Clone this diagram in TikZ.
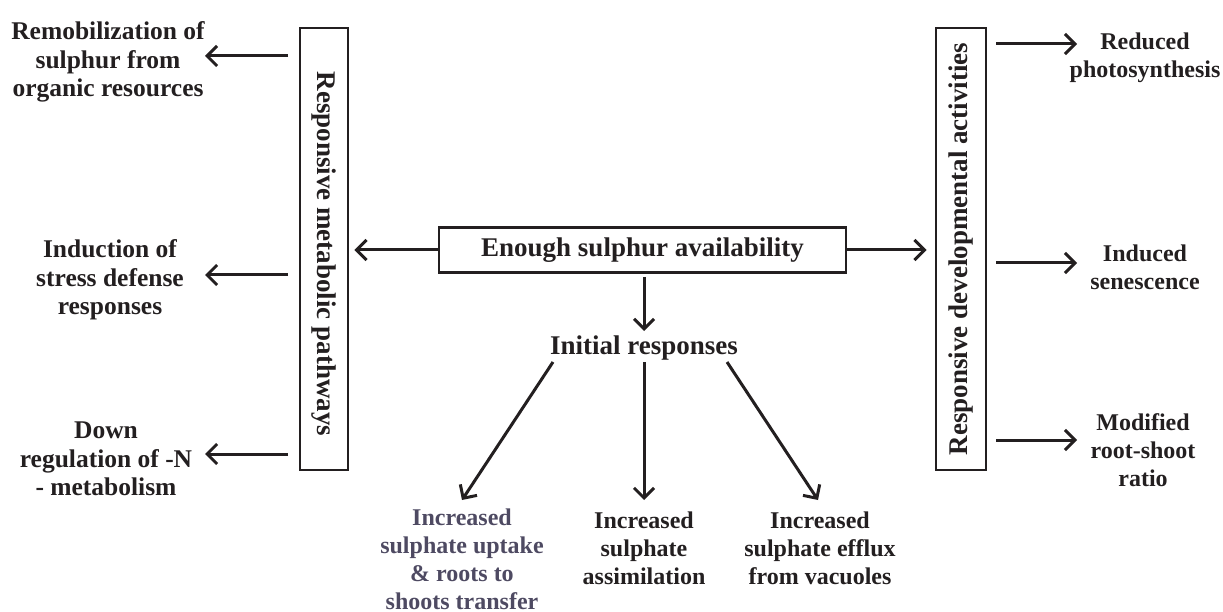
\documentclass[tikz,border=0pt]{standalone}
\usepackage{fontspec}
\setmainfont{Liberation Serif}
\usetikzlibrary{arrows.meta}
\definecolor{ink}{RGB}{35,31,32}
\definecolor{slate}{RGB}{78,74,98}
\tikzset{
  lbl/.style={font=\fontsize{24}{28}\selectfont\bfseries, text=ink, align=center, inner sep=0pt},
  sidelbl/.style={lbl, font=\fontsize{25.5}{28.5}\selectfont\bfseries},
  biglbl/.style={lbl, font=\fontsize{27}{30}\selectfont\bfseries},
  frame/.style={draw=ink, line width=2.8pt, inner sep=0pt},
  arr/.style={draw=ink, line width=3pt, -{Straight Barb[length=10pt,width=20pt,line width=3pt]}},
}
\begin{document}
\begin{tikzpicture}[x=1pt,y=-1pt]
\useasboundingbox (0,0) rectangle (1223,612);
% boxes
\node[frame, minimum width=48pt, minimum height=442pt] (L) at (324,249) {};
\node[biglbl, rotate=-90] at (324,254) {Responsive metabolic pathways};
\node[frame, minimum width=50pt, minimum height=442pt] (R) at (961,249) {};
\node[biglbl, rotate=90] at (R.center) {Responsive developmental activities};
\node[frame, minimum width=407pt, minimum height=45pt] (C) at (642.5,250) {};
\node[biglbl] at (C.center) {Enough sulphur availability};
\node[biglbl] (I) at (644,348) {Initial responses};
% left texts
\node[sidelbl] (l1) at (108,62) {Remobilization of\\sulphur from\\organic resources};
\node[sidelbl] (l2) at (110,280) {Induction of\\stress defense\\responses};
\node[sidelbl] (l3) at (106,459) {Down\\regulation of -N\\- metabolism};
% right texts
\node[lbl] (r1) at (1145,58) {Reduced\\photosynthesis};
\node[lbl] (r2) at (1145,267) {Induced\\senescence};
\node[lbl] (r3) at (1143,450) {Modified\\root-shoot\\ratio};
% bottom texts
\node[lbl, text=slate] (b1) at (462,559) {Increased\\sulphate uptake\\\& roots to\\shoots transfer};
\node[lbl] (b2) at (644,548) {Increased\\sulphate\\assimilation};
\node[lbl] (b3) at (820,548) {Increased\\sulphate efflux\\from vacuoles};
% coordinates
\coordinate (la1) at (288,56);  \coordinate (lb1) at (205,56);
\coordinate (la2) at (288,275); \coordinate (lb2) at (205,275);
\coordinate (la3) at (288,454); \coordinate (lb3) at (205,454);
\coordinate (ra1) at (996,44);  \coordinate (rb1) at (1077,44);
\coordinate (ra2) at (996,263); \coordinate (rb2) at (1077,263);
\coordinate (ra3) at (996,440); \coordinate (rb3) at (1077,440);
\coordinate (ia1) at (553,362); \coordinate (ib1) at (462,500);
\coordinate (ia2) at (644,362); \coordinate (ib2) at (644,500);
\coordinate (ia3) at (727,362); \coordinate (ib3) at (818,500);
\coordinate (dtop) at (644,277); \coordinate (dbot) at (644,331);
% connectors
\draw[arr, shorten >=5pt] (C.west) -- (L.east |- C.west);
\draw[arr, shorten >=8pt] (C.east) -- (R.west |- C.east);
\draw[arr] (dtop) -- (dbot);
\draw[arr] (la1) -- (lb1);
\draw[arr] (la2) -- (lb2);
\draw[arr] (la3) -- (lb3);
\draw[arr] (ra1) -- (rb1);
\draw[arr] (ra2) -- (rb2);
\draw[arr] (ra3) -- (rb3);
\draw[arr] (ia1) -- (ib1);
\draw[arr] (ia2) -- (ib2);
\draw[arr] (ia3) -- (ib3);
\end{tikzpicture}
\end{document}
